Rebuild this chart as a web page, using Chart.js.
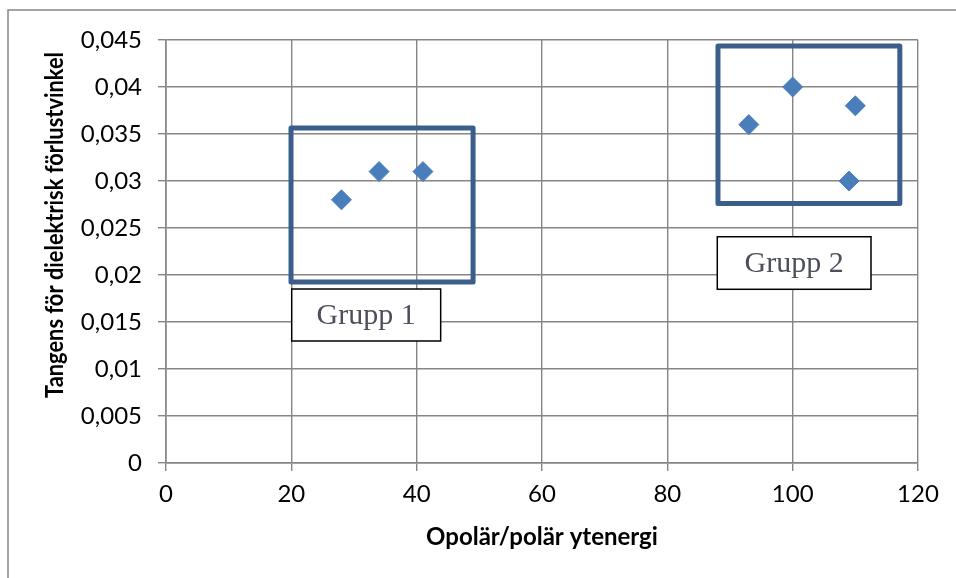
<!DOCTYPE html>
<html>
<head>
<meta charset="utf-8">
<script src="https://cdn.jsdelivr.net/npm/chart.js@4.4.0/dist/chart.umd.min.js"></script>
<style>
  html, body { margin: 0; padding: 0; background: #fff; }
  #wrap { width: 956px; height: 578px; }
</style>
</head>
<body>
<div id="wrap"><canvas id="chart"></canvas></div>
<script>
const group1X = [28, 34, 41];
const group1Y = [0.028, 0.031, 0.031];
const group2X = [93, 100, 109, 110];
const group2Y = [0.036, 0.040, 0.030, 0.038];
const xTickLabels = ['0', '20', '40', '60', '80', '100', '120'];
const yTickLabels = ['0', '0,005', '0,01', '0,015', '0,02', '0,025', '0,03', '0,035', '0,04', '0,045'];
const groupNames = ['Grupp 1', 'Grupp 2'];
const xTitle = 'Opolär/polär ytenergi';
const yTitle = 'Tangens för dielektrisk förlustvinkel';

const gridGray = '#868686';
const boxBlue = '#3b5e8c';
const pointBlue = '#4a7ebb';

// group frames and their label boxes, in data units
const frames = [
  { x0: 19.95, x1: 49.0, y0: 0.01926, y1: 0.03564, lx0: 20.06, lx1: 43.83, ly0: 0.01298, ly1: 0.01851 },
  { x0: 88.08, x1: 117.1, y0: 0.0276, y1: 0.04436, lx0: 87.97, lx1: 112.5, ly0: 0.01848, ly1: 0.02407 }
];

function toPoints(xs, ys) {
  return xs.map((x, i) => ({ x: x, y: ys[i] }));
}

// bold title, squeezed along its own direction so it spans about len px
function drawTitle(ctx, text, x, y, rot, len) {
  ctx.save();
  ctx.font = 'bold 24px Lato';
  const k = Math.min(1, len / ctx.measureText(text).width);
  ctx.translate(x, y);
  ctx.rotate(rot);
  ctx.scale(k, 1);
  ctx.fillText(text, 0, 0);
  ctx.restore();
}

const decorPlugin = {
  id: 'decor',
  beforeDraw(chart) {
    const ctx = chart.ctx;
    ctx.save();
    ctx.strokeStyle = gridGray;
    ctx.lineWidth = 1.5;
    ctx.beginPath();
    ctx.moveTo(8, chart.height);
    ctx.lineTo(8, 10);
    ctx.lineTo(chart.width, 10);
    ctx.stroke();
    ctx.restore();
  },
  afterDraw(chart) {
    const ctx = chart.ctx;
    const xs = chart.scales.x, ys = chart.scales.y;
    ctx.save();
    frames.forEach((f, i) => {
      const x0 = xs.getPixelForValue(f.x0), x1 = xs.getPixelForValue(f.x1);
      const y0 = ys.getPixelForValue(f.y0), y1 = ys.getPixelForValue(f.y1);
      ctx.strokeStyle = boxBlue;
      ctx.lineWidth = 5;
      ctx.lineJoin = 'round';
      ctx.strokeRect(x0, y1, x1 - x0, y0 - y1);

      const lx0 = xs.getPixelForValue(f.lx0), lx1 = xs.getPixelForValue(f.lx1);
      const ly0 = ys.getPixelForValue(f.ly0), ly1 = ys.getPixelForValue(f.ly1);
      ctx.fillStyle = '#fff';
      ctx.fillRect(lx0, ly1, lx1 - lx0, ly0 - ly1);
      ctx.strokeStyle = '#000';
      ctx.lineWidth = 1.5;
      ctx.lineJoin = 'miter';
      ctx.strokeRect(lx0, ly1, lx1 - lx0, ly0 - ly1);
      ctx.fillStyle = '#4d4f5c';
      ctx.font = '30px "Liberation Serif"';
      ctx.textAlign = 'center';
      ctx.textBaseline = 'middle';
      ctx.fillText(groupNames[i], (lx0 + lx1) / 2, (ly0 + ly1) / 2 + 1);
    });

    // axis titles
    const area = chart.chartArea;
    ctx.fillStyle = '#000';
    ctx.textAlign = 'center';
    ctx.textBaseline = 'alphabetic';
    drawTitle(ctx, xTitle, (area.left + area.right) / 2, 545, 0, 241);
    drawTitle(ctx, yTitle, 63, 225, -Math.PI / 2, 346);
    ctx.restore();
  }
};

const tickFont = { family: 'Lato', size: 24 };

new Chart(document.getElementById('chart'), {
  type: 'scatter',
  data: {
    datasets: [
      { label: groupNames[0], data: toPoints(group1X, group1Y) },
      { label: groupNames[1], data: toPoints(group2X, group2Y) }
    ]
  },
  options: {
    responsive: true,
    maintainAspectRatio: false,
    animation: false,
    layout: { padding: { top: 40, right: 38, left: 0, bottom: 0 } },
    elements: {
      point: {
        pointStyle: 'rectRot',
        radius: 10,
        hoverRadius: 10,
        backgroundColor: pointBlue,
        borderColor: pointBlue,
        borderWidth: 1
      }
    },
    plugins: {
      legend: { display: false },
      tooltip: { enabled: false }
    },
    scales: {
      x: {
        type: 'linear',
        min: 0,
        max: 120,
        afterFit(scale) { scale.height = 115; },
        ticks: {
          stepSize: 20,
          color: '#000',
          font: tickFont,
          padding: 9,
          maxRotation: 0,
          callback: (v, i) => xTickLabels[i]
        },
        grid: { color: gridGray, lineWidth: 1.4, tickLength: 8 },
        border: { color: gridGray, width: 1.6 }
      },
      y: {
        type: 'linear',
        min: 0,
        max: 0.045,
        afterFit(scale) { scale.width = 166; },
        ticks: {
          stepSize: 0.005,
          color: '#000',
          font: tickFont,
          padding: 16,
          callback: (v, i) => yTickLabels[i]
        },
        grid: { color: gridGray, lineWidth: 1.4, tickLength: 8 },
        border: { color: gridGray, width: 1.6 }
      }
    }
  },
  plugins: [decorPlugin]
});
</script>
</body>
</html>
